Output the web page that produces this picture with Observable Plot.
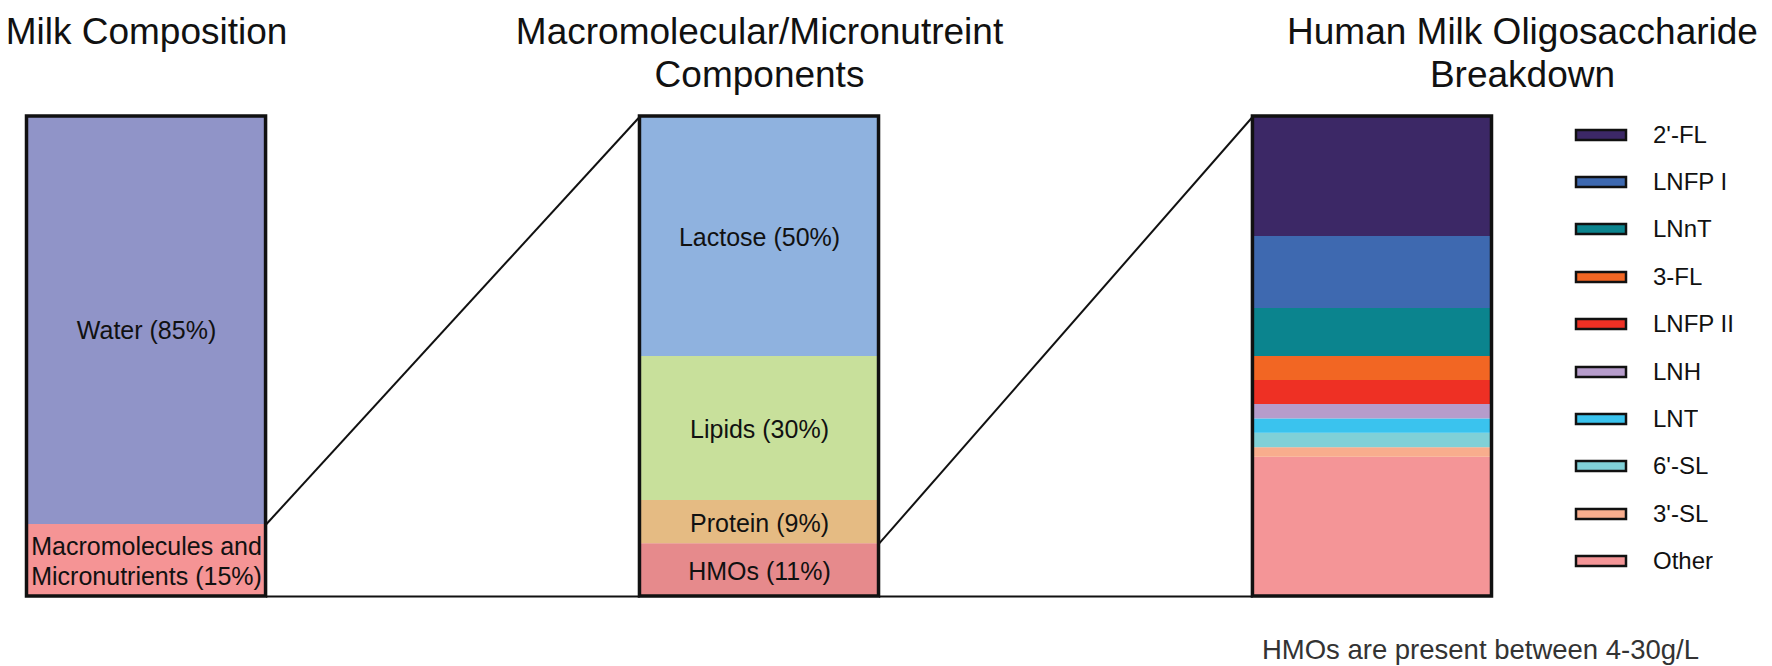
<!DOCTYPE html>
<html>
<head>
<meta charset="utf-8">
<script src="https://cdn.jsdelivr.net/npm/d3@7"></script>
<script src="https://cdn.jsdelivr.net/npm/@observablehq/plot@0.6"></script>
<style>
  html, body { margin: 0; padding: 0; background: #fff; }
  #wrap { position: relative; width: 1772px; height: 666px; overflow: hidden; background: #fff; }
  #legend { position: absolute; left: 1576px; top: 111px; width: 190px; }
  .lg-swatches { font-family: "Liberation Sans", Arial, Helvetica, sans-serif !important; font-size: 24px !important; color: #111; margin: 0 !important; }
  .lg-swatch { height: 47.4px; padding: 0 !important; }
  .lg-swatch > svg { margin-right: 27px !important; overflow: visible; }
  .lg-swatch rect { stroke: #111; stroke-width: 2.5px; }
</style>
</head>
<body>
<div id="wrap"><div id="legend"></div></div>
<script>
// ---- data (each list top-down as drawn) ----
const panelTitles = ["Milk Composition", "Macromolecular/Micronutreint\nComponents", "Human Milk Oligosaccharide\nBreakdown"];

const milkNames = ["Water", "Macromolecules and Micronutrients"];
const milkValues = [85, 15];
const milkLabels = ["Water (85%)", "Macromolecules and\nMicronutrients (15%)"];
const milkColors = ["#9094c8", "#f59495"];

const macroNames = ["Lactose", "Lipids", "Protein", "HMOs"];
const macroValues = [50, 30, 9, 11];
const macroLabels = ["Lactose (50%)", "Lipids (30%)", "Protein (9%)", "HMOs (11%)"];
const macroColors = ["#8fb2df", "#c8e09b", "#e5bb83", "#e68a8c"];

const hmoNames = ["2'-FL", "LNFP I", "LNnT", "3-FL", "LNFP II", "LNH", "LNT", "6'-SL", "3'-SL", "Other"];
const hmoValues = [25, 15, 10, 5, 5, 3, 3, 3, 2, 29];
const hmoColors = ["#3c2866", "#3e69b0", "#0b848e", "#f26623", "#ee3024", "#b69ccb", "#3ac3ee", "#80d0d7", "#f8ad8d", "#f49597"];

const zoomedSegments = ["Macromolecules and Micronutrients", "HMOs"]; // segment of panel i expanded in panel i+1
const footnote = "HMOs are present between 4-30g/L";

// ---- build tables ----
const panels = [
  {names: milkNames, values: milkValues, labels: milkLabels},
  {names: macroNames, values: macroValues, labels: macroLabels},
  {names: hmoNames, values: hmoValues, labels: hmoNames.map(() => null)}
];
const rows = [];
panels.forEach((p, i) => {
  for (let j = p.names.length - 1; j >= 0; --j) {
    rows.push({pos: i, name: p.names[j], value: p.values[j], label: p.labels[j]});
  }
});
const totals = panels.map((p, i) => ({pos: i, total: d3.sum(p.values), title: panelTitles[i]}));

// extents of zoomed segments (stacked bottom-up)
const links = [];
zoomedSegments.forEach((seg, i) => {
  let acc = 0, lo = 0, hi = 0;
  rows.filter(r => r.pos === i).forEach(r => {
    if (r.name === seg) { lo = acc; hi = acc + r.value; }
    acc += r.value;
  });
  links.push({from: i, to: i + 1, y1: hi, y2: totals[i + 1].total});
  links.push({from: i, to: i + 1, y1: lo, y2: 0});
});

const hw = 0.195; // half bar width in panel units
const font = "'Liberation Sans', Arial, Helvetica, sans-serif";
const labelOpts = {x: "pos", y: "value", z: "name", fill: "#111", lineHeight: 1.2};

const chart = Plot.plot({
  width: 1772,
  height: 666,
  marginTop: 116,
  marginBottom: 70,
  marginLeft: 26.5,
  marginRight: 280.5,
  x: {domain: [-hw, panels.length - 1 + hw], axis: null},
  y: {domain: [0, 100], axis: null},
  color: {type: "ordinal", domain: [...milkNames, ...macroNames, ...hmoNames], range: [...milkColors, ...macroColors, ...hmoColors]},
  style: {fontFamily: font, background: "white", overflow: "visible"},
  marks: [
    Plot.rectY(rows, Plot.stackY({x1: d => d.pos - hw, x2: d => d.pos + hw, y: "value", fill: "name", z: "name"})),
    Plot.link(links, {x1: d => d.from + hw, y1: "y1", x2: d => d.to - hw, y2: "y2", stroke: "#111", strokeWidth: 2}),
    Plot.rectY(totals, {x1: d => d.pos - hw, x2: d => d.pos + hw, y1: 0, y2: "total", fill: "none", stroke: "#111", strokeWidth: 3.5}),
    Plot.text(rows, Plot.stackY({...labelOpts, text: d => d.name === "Water" ? null : d.label, fontSize: 25})),
    Plot.text(rows, Plot.stackY({...labelOpts, text: d => d.name === "Water" ? d.label : null, fontSize: 25, dy: 9})),
    Plot.text(totals.slice(0, 2), {x: "pos", frameAnchor: "top", text: "title", lineAnchor: "top", dy: -103, fontSize: 37, lineHeight: 1.162, fill: "#111"}),
    Plot.text(totals.slice(2), {x: "pos", frameAnchor: "top", text: "title", lineAnchor: "top", dy: -103, dx: 150, fontSize: 37, lineHeight: 1.162, fill: "#111"}),
    Plot.text([footnote], {x: () => panels.length - 1, frameAnchor: "bottom", text: d => d, lineAnchor: "top", dy: 43, dx: 108, fontSize: 27.5, fill: "#333"})
  ]
});
document.getElementById("wrap").prepend(chart);

const legend = Plot.legend({
  color: {type: "ordinal", domain: hmoNames, range: hmoColors},
  legend: "swatches",
  columns: 1,
  swatchWidth: 50,
  swatchHeight: 10,
  className: "lg"
});
document.getElementById("legend").appendChild(legend);
</script>
</body>
</html>
